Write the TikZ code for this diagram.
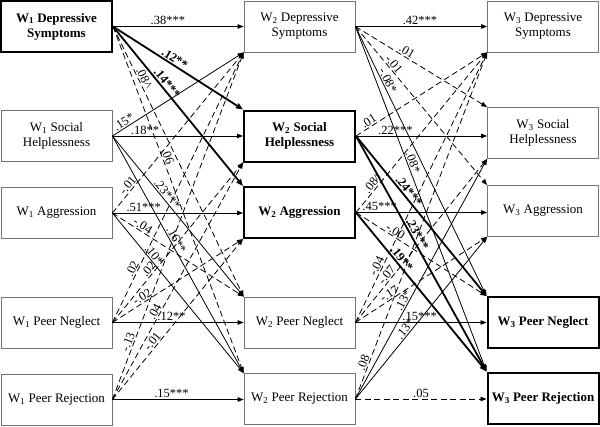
\documentclass[tikz,border=0pt]{standalone}
\usepackage{fontspec}
\setmainfont{Liberation Serif}
\usetikzlibrary{arrows.meta}
\begin{document}
\begin{tikzpicture}[x=1pt,y=-1pt,
  box/.style={draw=black!55, line width=0.8pt, minimum width=111pt, minimum height=51pt, inner sep=0pt, align=center, font=\fontsize{13}{15}\selectfont},
  boldbox/.style={box, draw=black, line width=2pt, font=\fontsize{13}{15}\selectfont\bfseries},
  conn/.style={line width=0.8pt, -{Triangle[length=6pt,width=4.5pt]}},
  dconn/.style={conn, dash pattern=on 6pt off 3.5pt},
  bconn/.style={conn, line width=1.8pt, -{Triangle[length=7pt,width=5.5pt]}},
  lab/.style={font=\fontsize{12.5}{14}\selectfont, inner sep=1pt, sloped, above},
  blab/.style={lab, font=\fontsize{12.5}{14}\selectfont\bfseries},
]
\useasboundingbox (0,0) rectangle (600,426);
% Wave 1
\node[boldbox] (d1) at (56.5,26.5) {W\textsubscript{1} Depressive\\Symptoms};
\node[box] (s1) at (56.5,136) {W\textsubscript{1} Social\\Helplessness};
\node[box] (a1) at (56.5,213) {W\textsubscript{1} Aggression};
\node[box] (n1) at (56.5,322.5) {W\textsubscript{1} Peer Neglect};
\node[box] (r1) at (56.5,399.5) {W\textsubscript{1} Peer Rejection};
% Wave 2
\node[box] (d2) at (299.5,26.5) {W\textsubscript{2} Depressive\\Symptoms};
\node[boldbox] (s2) at (299.5,136) {W\textsubscript{2} Social\\Helplessness};
\node[boldbox] (a2) at (299.5,212.5) {W\textsubscript{2} Aggression};
\node[box] (n2) at (299.5,322.5) {W\textsubscript{2} Peer Neglect};
\node[box] (r2) at (299.5,399) {W\textsubscript{2} Peer Rejection};
% Wave 3
\node[box] (d3) at (543,26.5) {W\textsubscript{3} Depressive\\Symptoms};
\node[box] (s3) at (543,133) {W\textsubscript{3} Social\\Helplessness};
\node[box] (a3) at (543,211) {W\textsubscript{3} Aggression};
\node[boldbox] (n3) at (543,322.5) {W\textsubscript{3} Peer Neglect};
\node[boldbox] (r3) at (543,398) {W\textsubscript{3} Peer Rejection};

% W1 -> W2
\draw[conn] (d1.east) -- node[lab,pos=.42]{.38***} (d1.east -| d2.west);
\draw[bconn] (d1.east) -- node[blab,pos=.45]{.12**} (s2.north west);
\draw[bconn] (d1.east) -- node[blab,pos=.38]{.14***} (a2.north west);
\draw[dconn] (d1.east) -- node[lab,pos=.2]{.08\textasciicircum} (n2.north west);
\draw[dconn] (d1.east) -- node[lab,pos=.38]{.06} (r2.north west);

\draw[conn] (s1.east) -- node[lab,pos=.11]{.15*} (d2.south west);
\draw[conn] (s1.east) -- node[lab,pos=.25]{.18**} (s1.east -| s2.west);
\draw[conn] (s1.east) -- node[lab,pos=.385]{.23***} (n2.north west);
\draw[conn] (s1.east) -- node[lab,pos=.45]{.16**} (r2.north west);

\draw[dconn] (a1.east) -- node[lab,pos=.15]{-.01} (d2.south west);
\draw[conn] (a1.east) -- node[lab,pos=.24]{.51***} (a1.east -| a2.west);
\draw[dconn] (a1.east) -- node[lab,pos=.21]{-.04} (n2.north west);
\draw[conn] (a1.east) -- node[lab,pos=.285]{.10*} (r2.north west);

\draw[dconn] (n1.east) -- node[lab,pos=.19]{.02} (d2.south west);
\draw[dconn] (n1.east) -- node[lab,pos=.31]{.02} (s2.south west);
\draw[dconn] (n1.east) -- node[lab,pos=.25]{-.02} (a2.south west);
\draw[conn] (n1.east) -- node[lab,pos=.45]{.12**} (n1.east -| n2.west);

\draw[dconn] (r1.east) -- node[lab,pos=.16]{-.13} (d2.south west);
\draw[dconn] (r1.east) -- node[lab,pos=.36]{.04} (s2.south west);
\draw[dconn] (r1.east) -- node[lab,pos=.34]{-.01} (a2.south west);
\draw[conn] (r1.east) -- node[lab,pos=.45]{.15***} (r1.east -| r2.west);

% W2 -> W3
\draw[conn] (d2.east) -- node[lab,pos=.49]{.42***} (d2.east -| d3.west);
\draw[dconn] (d2.east) -- node[lab,pos=.37]{.01} (s3.north west);
\draw[dconn] (d2.east) -- node[lab,pos=.26]{-.01} (a3.north west);
\draw[conn] (d2.east) -- node[lab,pos=.21]{-.08*} (n3.north west);
\draw[conn] (d2.east) -- node[lab,pos=.4]{.08*} (r3.north west);

\draw[dconn] (s2.east) -- node[lab,pos=.12]{.01} (d3.south west);
\draw[conn] (s2.east) -- node[lab,pos=.3]{.22***} (s2.east -| s3.west);
\draw[bconn] (s2.east) -- node[blab,pos=.37]{.24***} (n3.north west);
\draw[bconn] (s2.east) -- node[blab,pos=.43]{.23***} (r3.north west);

\draw[dconn] (a2.east) -- node[lab,pos=.16]{.08\textasciicircum} (d3.south west);
\draw[conn] (a2.east) -- node[lab,pos=.18]{.45***} (a2.east -| a3.west);
\draw[dconn] (a2.east) -- node[lab,pos=.28]{-.00} (n3.north west);
\draw[bconn] (a2.east) -- node[blab,pos=.315]{.19**} (r3.north west);

\draw[dconn] (n2.east) -- node[lab,pos=.2]{-.04} (d3.south west);
\draw[dconn] (n2.east) -- node[lab,pos=.27]{-.07} (s3.south west);
\draw[dconn] (n2.east) -- node[lab,pos=.28]{-.17} (a3.south west);
\draw[conn] (n2.east) -- node[lab,pos=.49]{.15***} (n2.east -| n3.west);

\draw[dconn] (r2.east) -- node[lab,pos=.1]{.08} (d3.south west);
\draw[conn] (r2.east) -- node[lab,pos=.4]{.13*} (s3.south west);
\draw[conn] (r2.east) -- node[lab,pos=.41]{.13*} (a3.south west);
\draw[dconn] (r2.east) -- node[lab,pos=.5]{.05} (r2.east -| r3.west);
\end{tikzpicture}
\end{document}
